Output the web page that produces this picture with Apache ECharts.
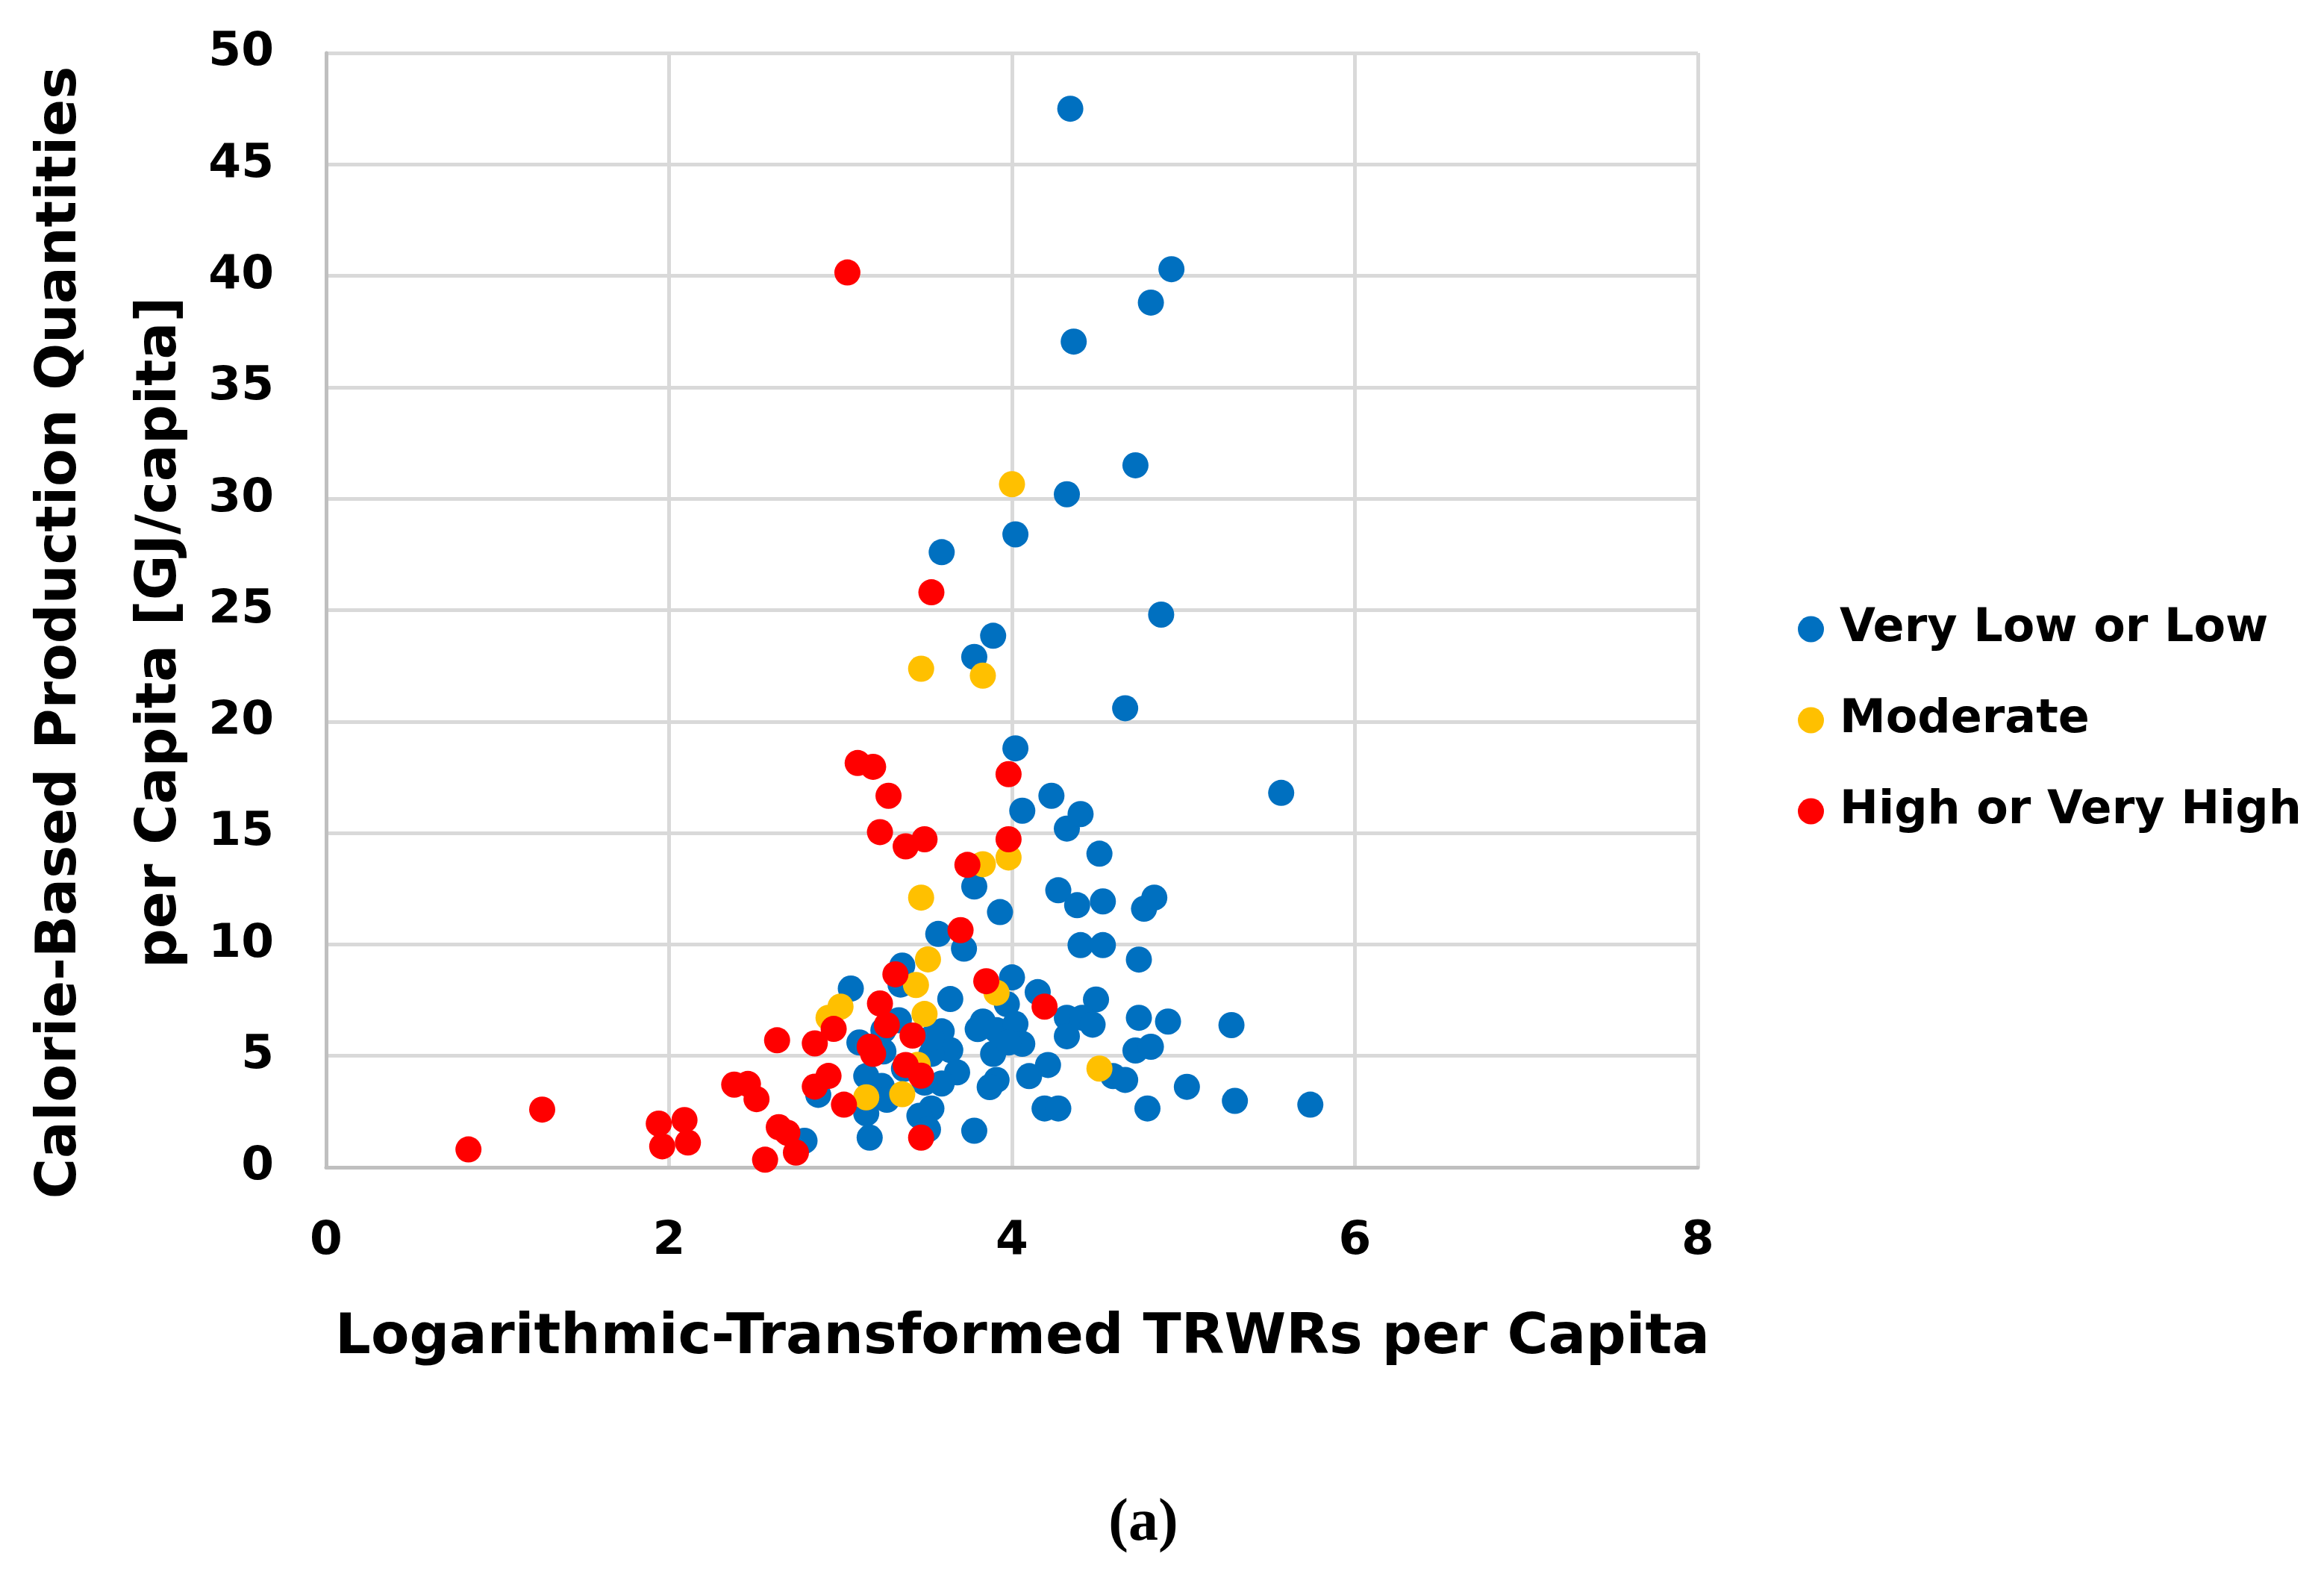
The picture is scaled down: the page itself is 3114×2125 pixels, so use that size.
<!DOCTYPE html>
<html>
<head>
<meta charset="utf-8">
<script src="https://cdn.jsdelivr.net/npm/echarts@6/dist/echarts.min.js"></script>
<style>
html,body{margin:0;padding:0;background:#fff;}
#chart{width:3114px;height:2125px;}
</style>
</head>
<body>
<div id="chart"></div>
<script>
// ---- Data (x: log-transformed TRWRs per capita, y: GJ/capita) ----
const seriesNames = ['Very Low or Low', 'Moderate', 'High or Very High'];
const xTicks = [0, 2, 4, 6, 8];
const yTicks = [0, 5, 10, 15, 20, 25, 30, 35, 40, 45, 50];

const veryLowOrLow = [
  [4.34,47.5],[4.93,40.3],[4.81,38.8],[4.36,37.05],[4.72,31.5],[4.32,30.2],
  [4.02,28.4],[3.59,27.6],[3.89,23.85],[3.78,22.9],[4.02,18.8],[4.23,16.67],
  [4.06,16.0],[4.32,15.2],[4.40,15.85],[4.87,24.8],[4.66,20.6],[5.57,16.8],[4.51,14.07],
  [4.27,12.43],[4.38,11.76],[4.53,11.93],[4.77,11.6],[4.83,12.1],[4.40,9.97],[4.53,9.97],
  [4.74,9.32],[4.49,7.53],[4.32,6.71],[4.41,6.71],[4.47,6.4],[4.32,5.88],[4.74,6.71],
  [4.91,6.54],[5.28,6.38],[4.72,5.24],[4.81,5.41],[4.21,4.59],[4.59,4.09],[4.66,3.92],
  [5.02,3.61],[4.79,2.64],[5.30,2.98],[5.74,2.81],[4.19,2.64],[4.27,2.64],[4.15,7.86],
  [3.78,12.6],[3.93,11.45],[3.57,10.47],[3.72,9.81],[3.36,9.05],[3.35,8.2],[3.06,8.02],
  [3.34,6.6],[3.25,6.15],[3.64,7.55],[3.59,6.1],[3.64,5.26],[3.53,5.09],[3.68,4.26],
  [3.59,3.76],[3.49,3.8],[3.11,5.6],[3.25,5.2],[3.37,4.42],[3.15,4.09],[3.24,3.65],
  [2.87,3.25],[3.15,2.42],[3.27,3.03],[3.53,2.64],[3.46,2.31],[3.51,1.7],[3.17,1.33],
  [3.78,1.64],[2.79,1.19],[4.00,8.52],[3.97,7.32],[3.83,6.54],[3.80,6.2],[3.91,6.15],
  [4.02,6.43],[4.06,5.54],[3.89,5.09],[3.98,5.6],[3.91,3.92],[3.87,3.6],[4.10,4.09],
  [3.53,5.8]
];

const moderate = [
  [4.00,30.65],[3.47,22.37],[3.83,22.06],[3.83,13.6],[3.98,13.9],[3.47,12.1],
  [3.51,9.33],[3.44,8.18],[3.00,7.21],[2.93,6.71],[3.49,6.88],[3.91,7.83],
  [3.45,4.6],[3.15,3.14],[3.36,3.28],[4.51,4.43]
];

const highOrVeryHigh = [
  [3.04,40.15],[3.53,25.8],[3.10,18.14],[3.19,17.97],[3.98,17.64],[3.28,16.67],
  [3.23,15.04],[3.38,14.4],[3.49,14.72],[3.98,14.72],[3.74,13.57],[3.70,10.64],
  [3.32,8.66],[3.85,8.35],[3.23,7.35],[4.19,7.21],[3.27,6.38],[2.96,6.21],[3.42,5.91],
  [2.63,5.7],[2.85,5.56],[3.17,5.41],[3.19,5.09],[3.38,4.59],[3.47,4.11],[2.93,4.1],
  [2.85,3.62],[2.38,3.71],[2.46,3.74],[2.51,3.06],[3.02,2.81],[1.26,2.59],[1.94,1.96],
  [2.09,2.12],[1.96,0.94],[2.11,1.11],[2.64,1.8],[2.69,1.55],[3.47,1.33],[2.74,0.66],
  [2.56,0.34],[0.83,0.8]
];

const seriesColors = ['#0070C0', '#FFC000', '#FF0000'];
const seriesData = [veryLowOrLow, moderate, highOrVeryHigh];

const font = 'DejaVu Sans';
const chart = echarts.init(document.getElementById('chart'), null, {renderer: 'canvas'});

const option = {
  backgroundColor: '#ffffff',
  animation: false,
  grid: {left: 437, top: 71, width: 1838, height: 1493, containLabel: false, outerBoundsMode: 'none'},
  xAxis: {
    type: 'value', min: xTicks[0], max: xTicks[xTicks.length - 1], interval: 2,
    name: 'Logarithmic-Transformed TRWRs per Capita',
    nameLocation: 'middle', nameGap: 192, nameMoveOverlap: false,
    nameTextStyle: {fontFamily: font, fontWeight: 'bold', fontSize: 75, color: '#000', padding: [0, 0, 0, 28]},
    axisLine: {show: true, lineStyle: {color: '#BFBFBF', width: 5}},
    axisTick: {show: false},
    axisLabel: {fontFamily: font, fontWeight: 'bold', fontSize: 63, color: '#000', margin: 68},
    splitLine: {show: true, lineStyle: {color: '#D9D9D9', width: 5}}
  },
  yAxis: {
    type: 'value', min: yTicks[0], max: yTicks[yTicks.length - 1], interval: 5,
    name: 'Calorie-Based Production Quantities\nper Capita [GJ/capita]',
    nameLocation: 'middle', nameRotate: 90, nameGap: 154, nameMoveOverlap: false,
    nameTextStyle: {fontFamily: font, fontWeight: 'bold', fontSize: 74, lineHeight: 134, color: '#000', padding: [0, 60, 0, 0]},
    axisLine: {show: true, lineStyle: {color: '#BFBFBF', width: 5}},
    axisTick: {show: false},
    axisLabel: {fontFamily: font, fontWeight: 'bold', fontSize: 63, color: '#000', margin: 70},
    splitLine: {show: true, lineStyle: {color: '#D9D9D9', width: 5}}
  },
  legend: {
    orient: 'vertical', left: 2404, top: 807,
    itemWidth: 35, itemHeight: 35, itemGap: 60, icon: 'circle',
    textStyle: {fontFamily: font, fontWeight: 'bold', fontSize: 62, lineHeight: 62, color: '#000', padding: [0, 0, 0, 16]},
    data: seriesNames
  },
  series: seriesNames.map((n, i) => ({
    name: n, type: 'scatter', symbol: 'circle', symbolSize: 35,
    itemStyle: {color: seriesColors[i], opacity: 1},
    data: seriesData[i]
  })),
  graphic: [{
    type: 'text', x: 1532, y: 2042,
    style: {text: '(a)', font: 'bold 80px "Liberation Serif"', fill: '#000', align: 'center', verticalAlign: 'middle'}
  }]
};
chart.setOption(option);
</script>
</body>
</html>
